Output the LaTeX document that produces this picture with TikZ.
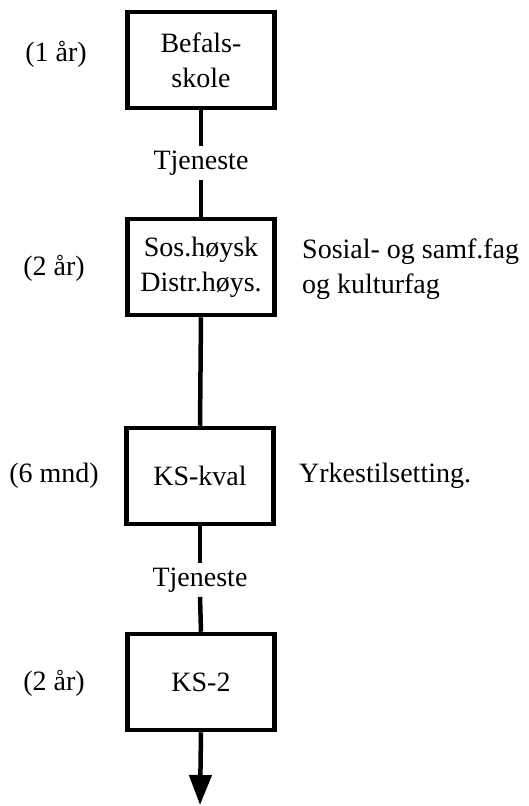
\documentclass[tikz,border=0pt]{standalone}
\usepackage{fontspec}
\setmainfont{Liberation Serif}
\usetikzlibrary{arrows.meta}
\begin{document}
\begin{tikzpicture}[x=1pt,y=-1pt,
  font=\rmfamily\fontsize{28}{35}\selectfont,
  stage/.style={draw, line width=4.5pt, minimum width=147pt, minimum height=96pt,
    align=center, inner sep=0pt},
  note/.style={inner sep=0pt, align=left, anchor=west},
  dur/.style={inner sep=0pt},
  gap/.style={inner xsep=0pt, inner ysep=4.5pt},
  link/.style={line width=4.5pt}]
\useasboundingbox (0,0) rectangle (529,806);

% stages
\node[stage] (bef) at (201,60)  {Befals-\\skole};
\node[stage] (sos) at (201,267) {Sos.høysk\\Distr.høys.};
\node[stage] (ksk) at (200,476) {KS-kval};
\node[stage] (ks2) at (201,682) {KS-2};

% durations
\node[dur] (d1) at (56,54)  {(1 år)};
\node[dur] (d2) at (54,268) {(2 år)};
\node[dur] (d3) at (54,476) {(6 mnd)};
\node[dur] (d4) at (54,683) {(2 år)};

% side notes
\node[note] (n1) at (302,269) {Sosial- og samf.fag\\og kulturfag};
\node[note] (n2) at (299,476) {Yrkestilsetting.};

% service periods
\node[gap] (t1) at (201,163) {Tjeneste};
\node[gap] (t2) at (200,580) {Tjeneste};

% connectors
\draw[link] (bef.south) -- (t1.north);
\draw[link] (t1.south) -- (sos.north);
\draw[link] (sos.south) -- (ksk.north);
\draw[link] (ksk.south) -- (t2.north);
\draw[link] (t2.south) -- (ks2.north);
\coordinate (out) at (200,805);
\draw[link, -{Triangle[length=30pt,width=22pt]}] (ks2.south) -- (out);
\end{tikzpicture}
\end{document}
